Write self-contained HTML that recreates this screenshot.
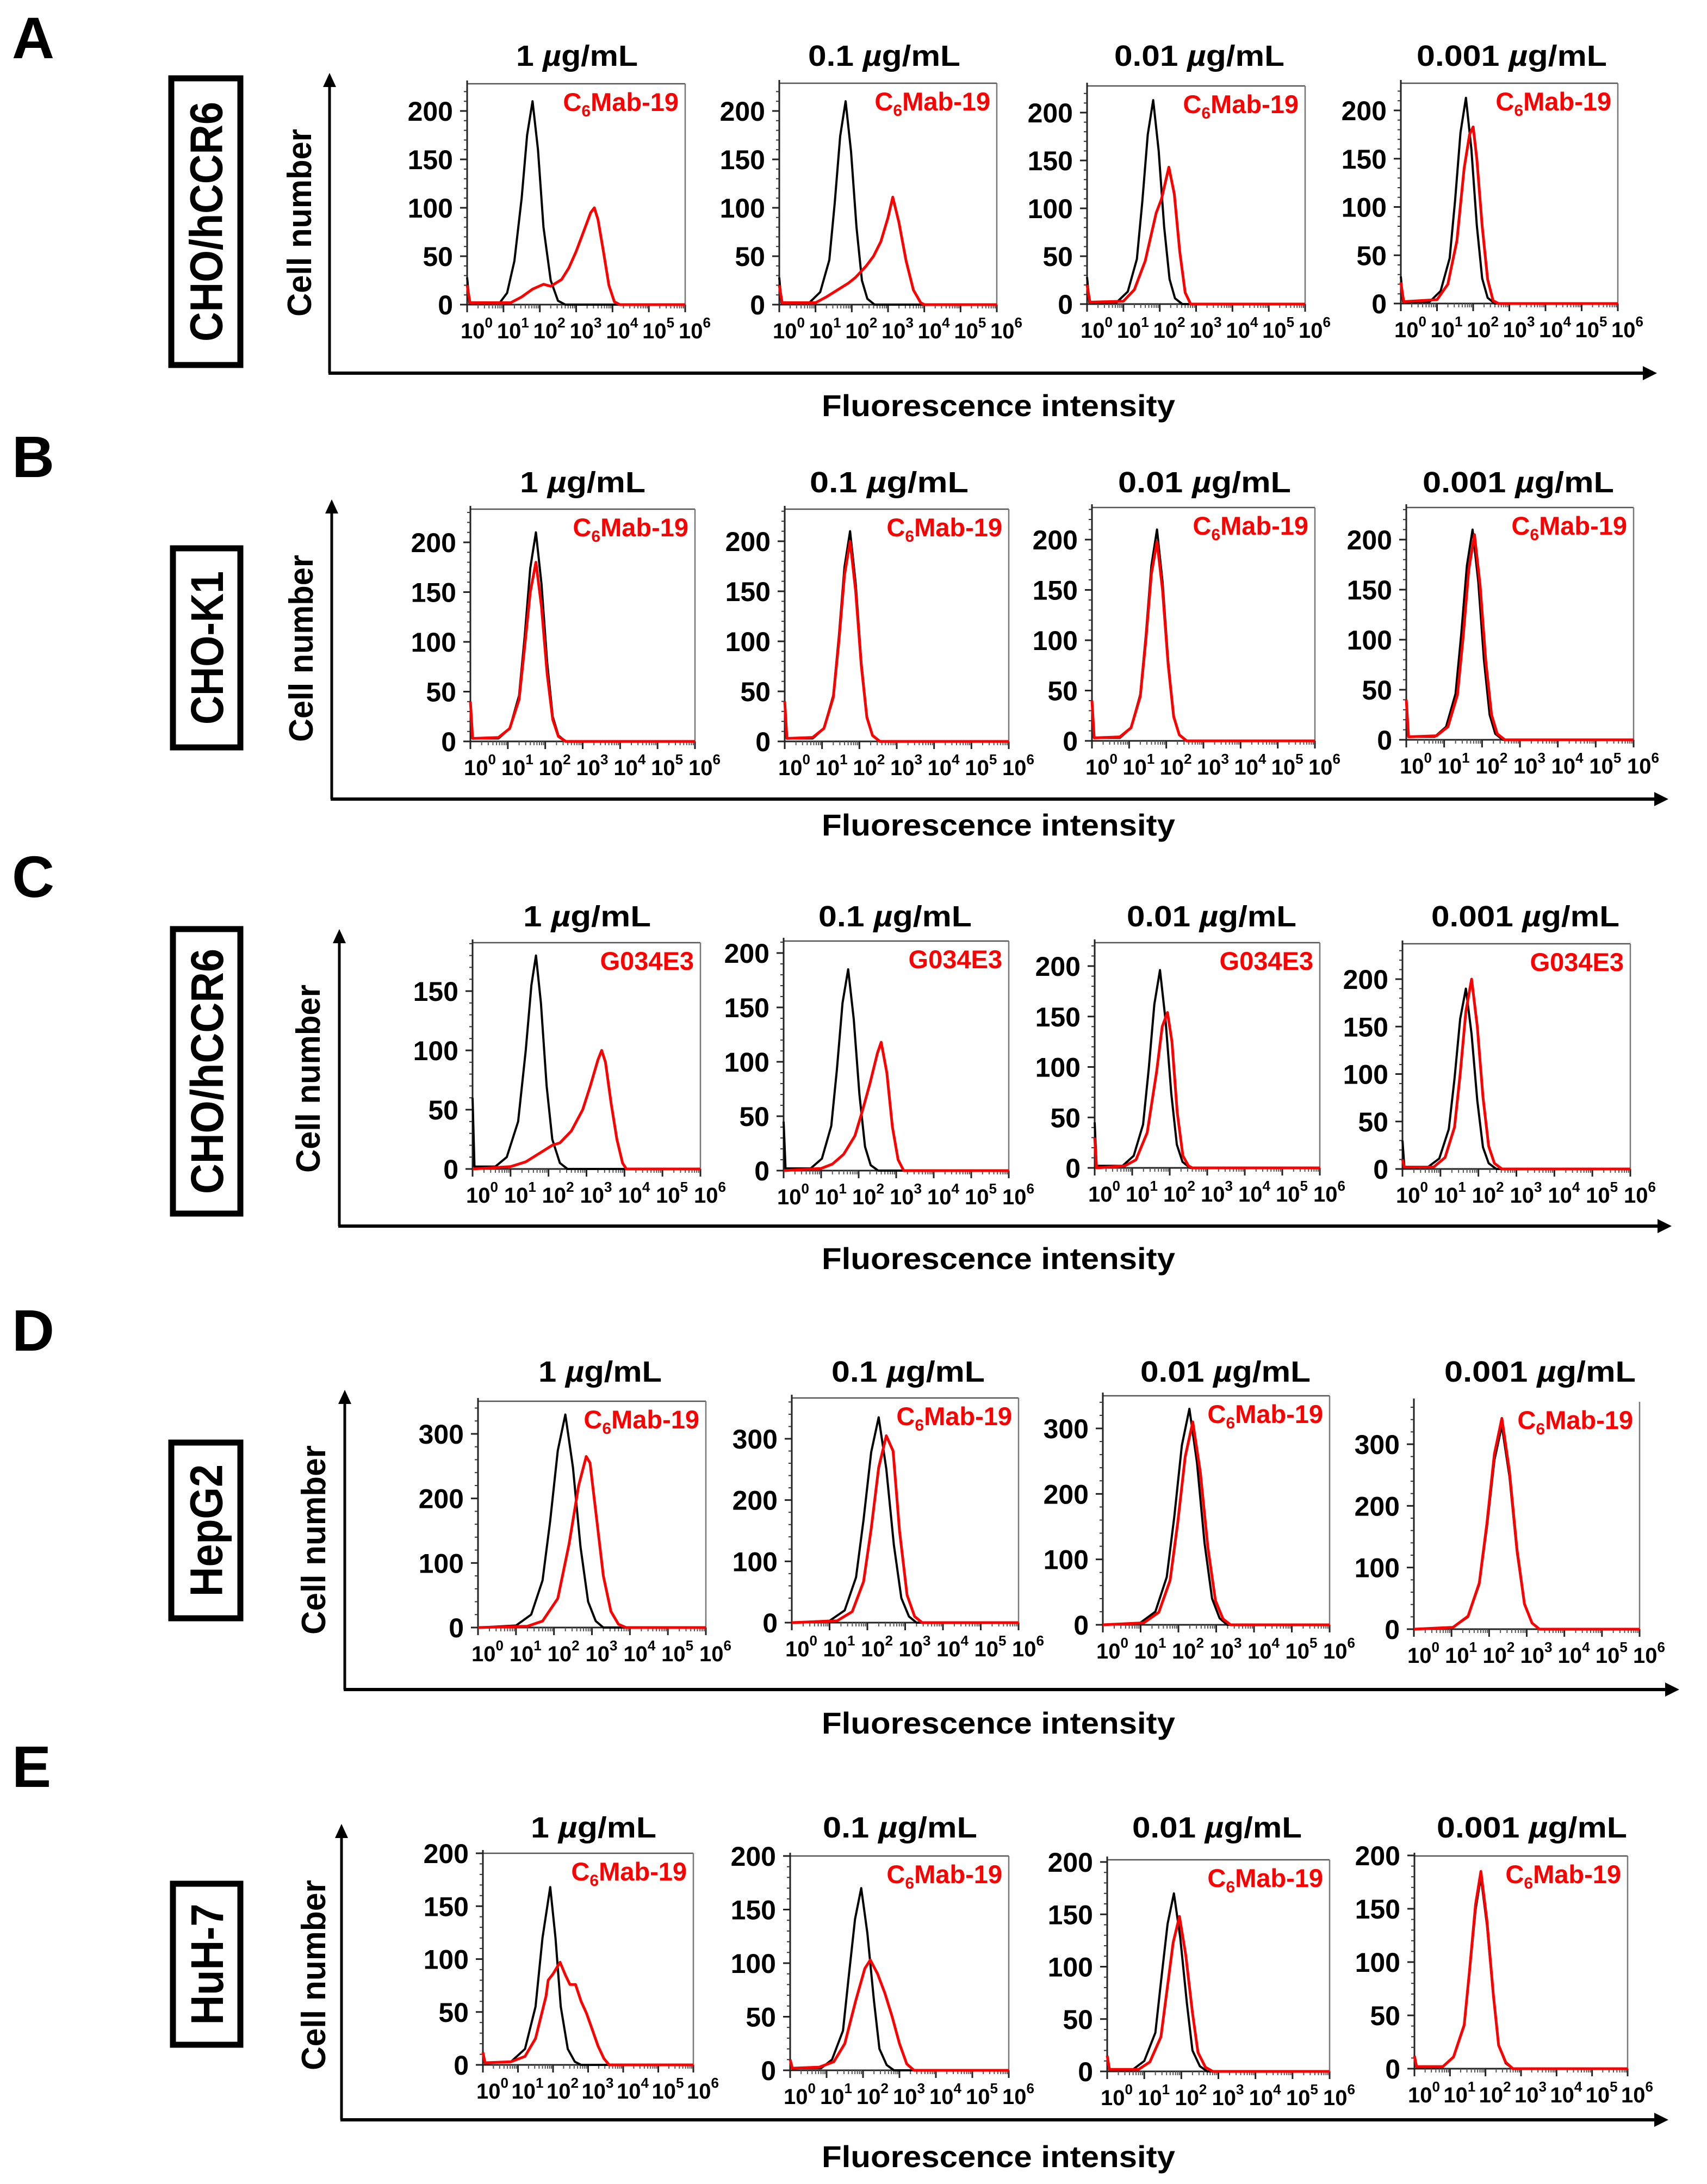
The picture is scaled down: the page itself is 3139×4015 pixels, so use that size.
<!DOCTYPE html>
<html>
<head>
<meta charset="utf-8">
<style>
html,body{margin:0;padding:0;background:#fff;}
svg{display:block;}
text{font-family:"Liberation Sans",Arial,sans-serif;font-weight:bold;}
</style>
</head>
<body>
<svg id="fig" xmlns="http://www.w3.org/2000/svg" width="3139" height="4015" viewBox="0 0 3139 4015"></svg>
<script>
// ---------- DATA: [log10 fluorescence, cell count] pairs ----------
const concentrations = ["1", "0.1", "0.01", "0.001"];
const rowLetters = ["A", "B", "C", "D", "E"];
const cellLines = ["CHO/hCCR6", "CHO-K1", "CHO/hCCR6", "HepG2", "HuH-7"];
const antibodies = ["C6Mab-19", "C6Mab-19", "G034E3", "C6Mab-19", "C6Mab-19"];
const xTickExponents = [0, 1, 2, 3, 4, 5, 6];
const yTicksA = [0, 50, 100, 150, 200];
const yTicksC1 = [0, 50, 100, 150];
const yTicksD = [0, 100, 200, 300];

const A1_black = [[0,28],[0.06,2],[0.9,2],[1.1,12],[1.3,45],[1.5,110],[1.65,175],[1.8,210],[1.95,160],[2.1,80],[2.3,25],[2.5,4],[2.7,0],[6,0]];
const A1_red = [[0,20],[0.08,2],[1.2,2],[1.5,8],[1.8,16],[2.1,21],[2.3,19],[2.6,26],[2.8,38],[3.0,55],[3.2,75],[3.4,95],[3.5,100],[3.6,88],[3.75,55],[3.9,20],[4.05,3],[4.2,0],[6,0]];
const A2_black = [[0,28],[0.06,2],[0.83,2],[1.13,13],[1.38,46],[1.53,105],[1.68,174],[1.83,210],[1.98,158],[2.13,80],[2.28,25],[2.43,6],[2.63,0],[6,0]];
const A2_red = [[0,20],[0.08,2],[1.0,2],[1.3,8],[1.6,15],[1.9,22],[2.1,28],[2.4,40],[2.6,50],[2.8,65],[3.0,90],[3.13,111],[3.3,85],[3.5,45],[3.7,15],[3.9,2],[4.0,0],[6,0]];
const A3_black = [[0,28],[0.06,2],[0.82,2],[1.12,13],[1.37,47],[1.52,107],[1.67,177],[1.82,213],[1.97,160],[2.12,81],[2.27,26],[2.42,6],[2.62,0],[6,0]];
const A3_red = [[0,20],[0.08,2],[1.0,3],[1.3,15],[1.6,45],[1.9,95],[2.05,110],[2.25,143],[2.4,115],[2.55,55],[2.7,12],[2.85,0],[6,0]];
const A4_black = [[0,28],[0.06,2],[0.8,2],[1.1,13],[1.35,47],[1.5,107],[1.65,177],[1.8,213],[1.95,160],[2.1,81],[2.25,26],[2.4,6],[2.6,0],[6,0]];
const A4_red = [[0,22],[0.08,2],[1.0,4],[1.3,20],[1.55,65],[1.75,140],[1.9,175],[2.0,183],[2.1,150],[2.25,80],[2.4,25],[2.55,3],[2.7,0],[6,0]];

const B_black = [[0,40],[0.06,3],[0.75,3],[1.05,13],[1.3,46],[1.45,105],[1.6,174],[1.75,210],[1.9,158],[2.05,80],[2.2,25],[2.35,6],[2.55,0],[6,0]];
const B1_red = [[0,40],[0.06,3],[0.75,4],[1.05,13],[1.3,42],[1.45,95],[1.6,150],[1.75,180],[1.9,135],[2.05,68],[2.2,22],[2.35,5],[2.55,0],[6,0]];
const B2_red = [[0,40],[0.06,3],[0.75,4],[1.05,13],[1.3,44],[1.45,100],[1.6,166],[1.75,200],[1.9,150],[2.05,76],[2.2,24],[2.35,6],[2.55,0],[6,0]];
const B3_red = [[0,40],[0.06,3],[0.75,4],[1.05,13],[1.3,44],[1.45,100],[1.6,166],[1.75,198],[1.9,150],[2.05,76],[2.2,24],[2.35,6],[2.55,0],[6,0]];
const B4_red = [[0,40],[0.06,3],[0.8,4],[1.1,13],[1.35,45],[1.5,102],[1.65,170],[1.8,205],[1.95,154],[2.1,78],[2.25,25],[2.4,6],[2.6,0],[6,0]];

const C1_black = [[0,60],[0.05,2],[0.6,2],[0.9,10],[1.2,40],[1.4,100],[1.55,155],[1.67,180],[1.8,140],[1.95,70],[2.1,25],[2.3,5],[2.5,0],[6,0]];
const C1_red = [[0,0],[1.0,2],[1.4,6],[1.8,14],[2.1,20],[2.3,22],[2.6,32],[2.9,50],[3.1,70],[3.3,92],[3.4,100],[3.5,90],[3.65,55],[3.8,25],[3.95,5],[4.05,0],[6,0]];
const C2_black = [[0,45],[0.05,2],[0.72,2],[1.02,11],[1.27,41],[1.42,93],[1.57,154],[1.72,185],[1.87,139],[2.02,70],[2.17,22],[2.32,5],[2.52,0],[6,0]];
const C2_red = [[0,0],[1.0,2],[1.3,6],[1.6,15],[1.9,32],[2.1,55],[2.3,80],[2.5,108],[2.6,118],[2.75,90],[2.9,40],[3.05,10],[3.2,0],[6,0]];
const C3_black = [[0,45],[0.05,2],[0.74,2],[1.04,12],[1.29,43],[1.44,98],[1.59,162],[1.74,196],[1.89,146],[2.04,74],[2.19,23],[2.34,6],[2.54,0],[6,0]];
const C3_red = [[0,30],[0.05,0],[0.8,2],[1.1,8],[1.4,35],[1.65,95],[1.8,140],[1.94,154],[2.06,125],[2.2,55],[2.35,12],[2.5,2],[2.6,0],[6,0]];
const C4_black = [[0,30],[0.05,2],[0.67,2],[0.97,11],[1.22,42],[1.37,95],[1.52,158],[1.67,190],[1.82,142],[1.97,72],[2.12,23],[2.27,6],[2.47,0],[6,0]];
const C4_red = [[0,10],[0.05,2],[0.82,2],[1.12,12],[1.37,44],[1.52,100],[1.67,166],[1.82,200],[1.97,150],[2.12,76],[2.27,24],[2.42,6],[2.62,0],[6,0]];

const D1_black = [[0,0],[1.0,3],[1.4,20],[1.7,73],[1.9,165],[2.1,274],[2.3,330],[2.5,248],[2.7,125],[2.9,40],[3.1,10],[3.3,0],[6,0]];
const D1_red = [[0,0],[1.3,2],[1.7,10],[2.1,45],[2.4,130],[2.65,220],[2.85,265],[2.95,255],[3.1,180],[3.3,80],[3.5,25],[3.7,5],[3.9,0],[6,0]];
const D2_black = [[0,0],[1.0,3],[1.4,20],[1.7,74],[1.9,168],[2.1,278],[2.3,335],[2.5,251],[2.7,127],[2.9,40],[3.1,10],[3.3,0],[6,0]];
const D2_red = [[0,0],[1.2,3],[1.6,18],[1.9,67],[2.1,153],[2.3,253],[2.5,305],[2.68,280],[2.85,150],[3.05,45],[3.25,10],[3.45,0],[6,0]];
const D3_black = [[0,0],[0.99,3],[1.39,20],[1.69,73],[1.89,165],[2.09,274],[2.29,330],[2.49,248],[2.69,125],[2.89,40],[3.09,10],[3.29,0],[6,0]];
const D3_red = [[0,0],[1.08,3],[1.48,19],[1.78,68],[1.98,155],[2.18,257],[2.38,310],[2.58,233],[2.78,118],[2.98,37],[3.18,9],[3.38,0],[6,0]];
const D4_black = [[0,0],[1.04,3],[1.44,20],[1.74,73],[1.94,165],[2.14,274],[2.34,330],[2.54,248],[2.74,125],[2.94,40],[3.14,10],[3.34,0],[6,0]];
const D4_red = [[0,0],[1.04,3],[1.44,21],[1.74,75],[1.94,171],[2.14,284],[2.34,342],[2.54,256],[2.74,130],[2.94,41],[3.14,10],[3.34,0],[6,0]];

const E1_black = [[0,12],[0.06,2],[0.8,3],[1.2,15],[1.5,55],[1.7,120],[1.92,168],[2.07,120],[2.22,55],[2.42,15],[2.62,3],[2.8,0],[6,0]];
const E1_red = [[0,12],[0.06,2],[0.8,3],[1.2,8],[1.5,25],[1.8,65],[1.86,80],[2.0,86],[2.2,97],[2.35,85],[2.48,76],[2.64,76],[2.8,60],[2.95,49],[3.1,35],[3.28,18],[3.45,6],[3.6,0],[6,0]];
const E2_black = [[0,10],[0.06,2],[0.85,2],[1.15,10],[1.45,37],[1.6,85],[1.78,141],[1.95,170],[2.12,128],[2.3,65],[2.45,20],[2.65,5],[2.85,0],[6,0]];
const E2_red = [[0,10],[0.06,2],[0.8,3],[1.2,8],[1.5,25],[1.8,65],[2.05,95],[2.2,103],[2.4,90],[2.6,72],[2.8,50],[3.0,25],[3.2,6],[3.4,0],[6,0]];
const E3_black = [[0,15],[0.06,2],[0.7,2],[1.0,10],[1.3,37],[1.45,85],[1.63,141],[1.8,170],[1.97,128],[2.15,65],[2.3,20],[2.5,5],[2.7,0],[6,0]];
const E3_red = [[0,15],[0.06,2],[0.85,2],[1.15,9],[1.45,33],[1.6,74],[1.78,123],[1.95,148],[2.12,111],[2.3,56],[2.45,18],[2.65,4],[2.85,0],[6,0]];
const E4_black = [[0,12],[0.06,2],[0.8,2],[1.1,11],[1.4,40],[1.55,90],[1.72,149],[1.87,180],[2.04,135],[2.22,68],[2.37,22],[2.57,5],[2.77,0],[6,0]];
const E4_red = [[0,12],[0.06,2],[0.8,2],[1.1,11],[1.4,41],[1.55,92],[1.72,154],[1.87,185],[2.04,139],[2.22,70],[2.37,22],[2.57,6],[2.77,0],[6,0]];

const blackSeries = [[A1_black,A2_black,A3_black,A4_black],[B_black,B_black,B_black,B_black],[C1_black,C2_black,C3_black,C4_black],[D1_black,D2_black,D3_black,D4_black],[E1_black,E2_black,E3_black,E4_black]];
const redSeries = [[A1_red,A2_red,A3_red,A4_red],[B1_red,B2_red,B3_red,B4_red],[C1_red,C2_red,C3_red,C4_red],[D1_red,D2_red,D3_red,D4_red],[E1_red,E2_red,E3_red,E4_red]];
const yTickSets = [[yTicksA,yTicksA,yTicksA,yTicksA],[yTicksA,yTicksA,yTicksA,yTicksA],[yTicksC1,yTicksA,yTicksA,yTicksA],[yTicksD,yTicksD,yTicksD,yTicksD],[yTicksA,yTicksA,yTicksA,yTicksA]];

// ---------- LAYOUT (pixels) ----------
const frames = [
 [[859,1260,154,560,200,204],[1433,1833,153,560,200,204],[1999,2400,158,559,200,207],[2576,2975,153,558,200,203]],
 [[865,1278,936,1363,200,997],[1443,1855,936,1363,200,995],[2008,2418,933,1362,200,992],[2586,3004,933,1360,200,992]],
 [[869,1288,1733,2149,100,1931],[1441,1855,1730,2152,200,1752],[2013,2427,1733,2147,200,1776],[2579,2998,1735,2149,200,1800]],
 [[879,1298,2576,2992,300,2636],[1456,1873,2570,2983,300,2645],[2028,2445,2566,2987,300,2626],[2600,3015,2577,2995,300,2655]],
 [[888,1275,3407,3796,200,3407],[1453,1855,3412,3806,200,3412],[2036,2445,3419,3808,200,3423],[2601,2993,3412,3803,200,3411]]
];
const titleSpans = [
 [[949,1173],[1486,1766],[2049,2362],[2605,2955]],
 [[956,1187],[1489,1781],[2056,2374],[2616,2968]],
 [[962,1197],[1505,1787],[2072,2384],[2632,2978]],
 [[990,1217],[1529,1811],[2097,2410],[2656,3008]],
 [[976,1207],[1513,1797],[2082,2394],[2642,2992]]
];
const titleBaselines = [121, 905, 1703, 2540, 3378];
const letterBaselines = [107, 877, 1649, 2483, 3285];
const boxes = [[310,139,447,676,441],[313,1003,447,1379,282],[313,1703,447,2236,451],[310,2647,447,2980,243],[313,3458,447,3764,223]];
const cellLabel = [[572,237,582],[575,1020,1364],[588,1810,2156],[598,2657,3005],[598,3456,3806]];
const bigAxes = [[606,134,686,3047],[610,918,1469,3068],[624,1708,2254,3074],[634,2555,3106,3088],[628,3353,3897,3068]];
const fiBaselines = [765, 1536, 2333, 3187, 3984];

const NS = "http://www.w3.org/2000/svg";
const svg = document.getElementById("fig");
function mk(tag, attrs, parent) {
  const e = document.createElementNS(NS, tag);
  for (const k in attrs) e.setAttribute(k, attrs[k]);
  (parent || svg).appendChild(e);
  return e;
}

for (let r = 0; r < 5; r++) {
  const lt = mk("text", {x: 22, y: letterBaselines[r], "font-size": 108});
  
  
  lt.textContent = rowLetters[r];

  const b = boxes[r];
  const bx = mk("rect", {x: b[0]+5, y: b[1]+5, width: b[2]-b[0]-10, height: b[3]-b[1]-10, fill: "none", stroke: "#000", "stroke-width": 11});
  
  
  const cx = (b[0]+b[2])/2 + 30, cy = (b[1]+b[3])/2;
  const bt = mk("text", {x: cx, y: cy, "font-size": 84, "text-anchor": "middle", transform: `rotate(-90 ${cx} ${cy})`, textLength: b[4], lengthAdjust: "spacingAndGlyphs"});
  
  
  bt.textContent = cellLines[r];

  const cl = cellLabel[r];
  const cmy = (cl[1]+cl[2])/2;
  const ct = mk("text", {x: cl[0], y: cmy, "font-size": 62, "text-anchor": "middle", transform: `rotate(-90 ${cl[0]} ${cmy})`, textLength: cl[2]-cl[1], lengthAdjust: "spacingAndGlyphs"});
  
  
  ct.textContent = "Cell number";

  const ax = bigAxes[r];
  const g = mk("g", {});
  
  
  mk("line", {x1: ax[0], y1: ax[1]+20, x2: ax[0], y2: ax[2], stroke: "#000", "stroke-width": 5}, g);
  mk("line", {x1: ax[0]-2, y1: ax[2], x2: ax[3]-20, y2: ax[2], stroke: "#000", "stroke-width": 6}, g);
  mk("polygon", {points: `${ax[0]-12},${ax[1]+26} ${ax[0]+12},${ax[1]+26} ${ax[0]},${ax[1]}`, fill: "#000"}, g);
  mk("polygon", {points: `${ax[3]-26},${ax[2]-13} ${ax[3]-26},${ax[2]+13} ${ax[3]},${ax[2]}`, fill: "#000"}, g);

  const ft = mk("text", {x: 1511, y: fiBaselines[r], "font-size": 56, textLength: 650, lengthAdjust: "spacingAndGlyphs"});
  
  
  ft.textContent = "Fluorescence intensity";

  for (let c = 0; c < 4; c++) {
    const f = frames[r][c];
    const L = f[0], R = f[1], T = f[2], B = f[3];
    const sy = (B - f[5]) / f[4];
    const xOf = v => L + (R - L) * v / 6;
    const yOf = v => Math.max(T, B - v * sy);
    const pg = mk("g", {});
    
    

    const ts = titleSpans[r][c];
    const tt = mk("text", {x: ts[0], y: titleBaselines[r], "font-size": 54, textLength: ts[1]-ts[0], lengthAdjust: "spacingAndGlyphs"}, pg);
    
    
    tt.innerHTML = concentrations[c] + ' <tspan font-style="italic">µ</tspan>g/mL';

    if (!(r === 3 && c === 3)) mk("line", {x1: L, y1: T, x2: R, y2: T, stroke: "#555", "stroke-width": 2.5}, pg);
    mk("line", {x1: R, y1: T, x2: R, y2: B, stroke: "#777", "stroke-width": 2.5}, pg);
    mk("line", {x1: L, y1: T-6, x2: L, y2: B+4, stroke: "#222", "stroke-width": 3}, pg);
    mk("line", {x1: L, y1: B, x2: R, y2: B, stroke: "#222", "stroke-width": 3}, pg);

    const yt = yTickSets[r][c];
    const step = yt[1] - yt[0];
    for (let v = 0; B - v * sy >= T - 1; v += step / 5) {
      const y = B - v * sy;
      mk("line", {x1: L - 6, y1: y, x2: L, y2: y, stroke: "#333", "stroke-width": 2}, pg);
    }
    yt.forEach(v => {
      const y = B - v * sy;
      mk("line", {x1: L - 13, y1: y, x2: L, y2: y, stroke: "#222", "stroke-width": 3}, pg);
      const tl = mk("text", {x: L - 26, y: y + 18, "font-size": 50, "text-anchor": "end"}, pg);
      
      
      tl.textContent = v;
    });

    xTickExponents.forEach(e => {
      const x = xOf(e);
      mk("line", {x1: x, y1: B, x2: x, y2: B + 14, stroke: "#222", "stroke-width": 3}, pg);
      if (e < 6) for (let k = 2; k <= 9; k++) {
        const xm = xOf(e + Math.log10(k));
        mk("line", {x1: xm, y1: B, x2: xm, y2: B + 7, stroke: "#555", "stroke-width": 2}, pg);
      }
      const xl = mk("text", {x: x - 12, y: B + 62, "font-size": 40}, pg);
      
      
      xl.innerHTML = '10<tspan font-size="26" dy="-20">' + e + '</tspan>';
    });

    const toPts = arr => arr.map(p => xOf(p[0]).toFixed(1) + "," + yOf(p[1]).toFixed(1)).join(" ");
    const bl = mk("polyline", {points: toPts(blackSeries[r][c]), fill: "none", stroke: "#000", "stroke-width": 4, "stroke-linejoin": "round"}, pg);
    
    
    const rl = mk("polyline", {points: toPts(redSeries[r][c]), fill: "none", stroke: "#f00", "stroke-width": 5, "stroke-linejoin": "round"}, pg);
    
    

    const al = mk("text", {x: R - 12, y: T + 50, "font-size": 47, "text-anchor": "end", fill: "#f00"}, pg);
    
    
    if (antibodies[r] === "C6Mab-19") al.innerHTML = 'C<tspan font-size="30" dy="10">6</tspan><tspan dy="-10">Mab-19</tspan>';
    else al.textContent = antibodies[r];
  }
}
</script>
</body>
</html>
